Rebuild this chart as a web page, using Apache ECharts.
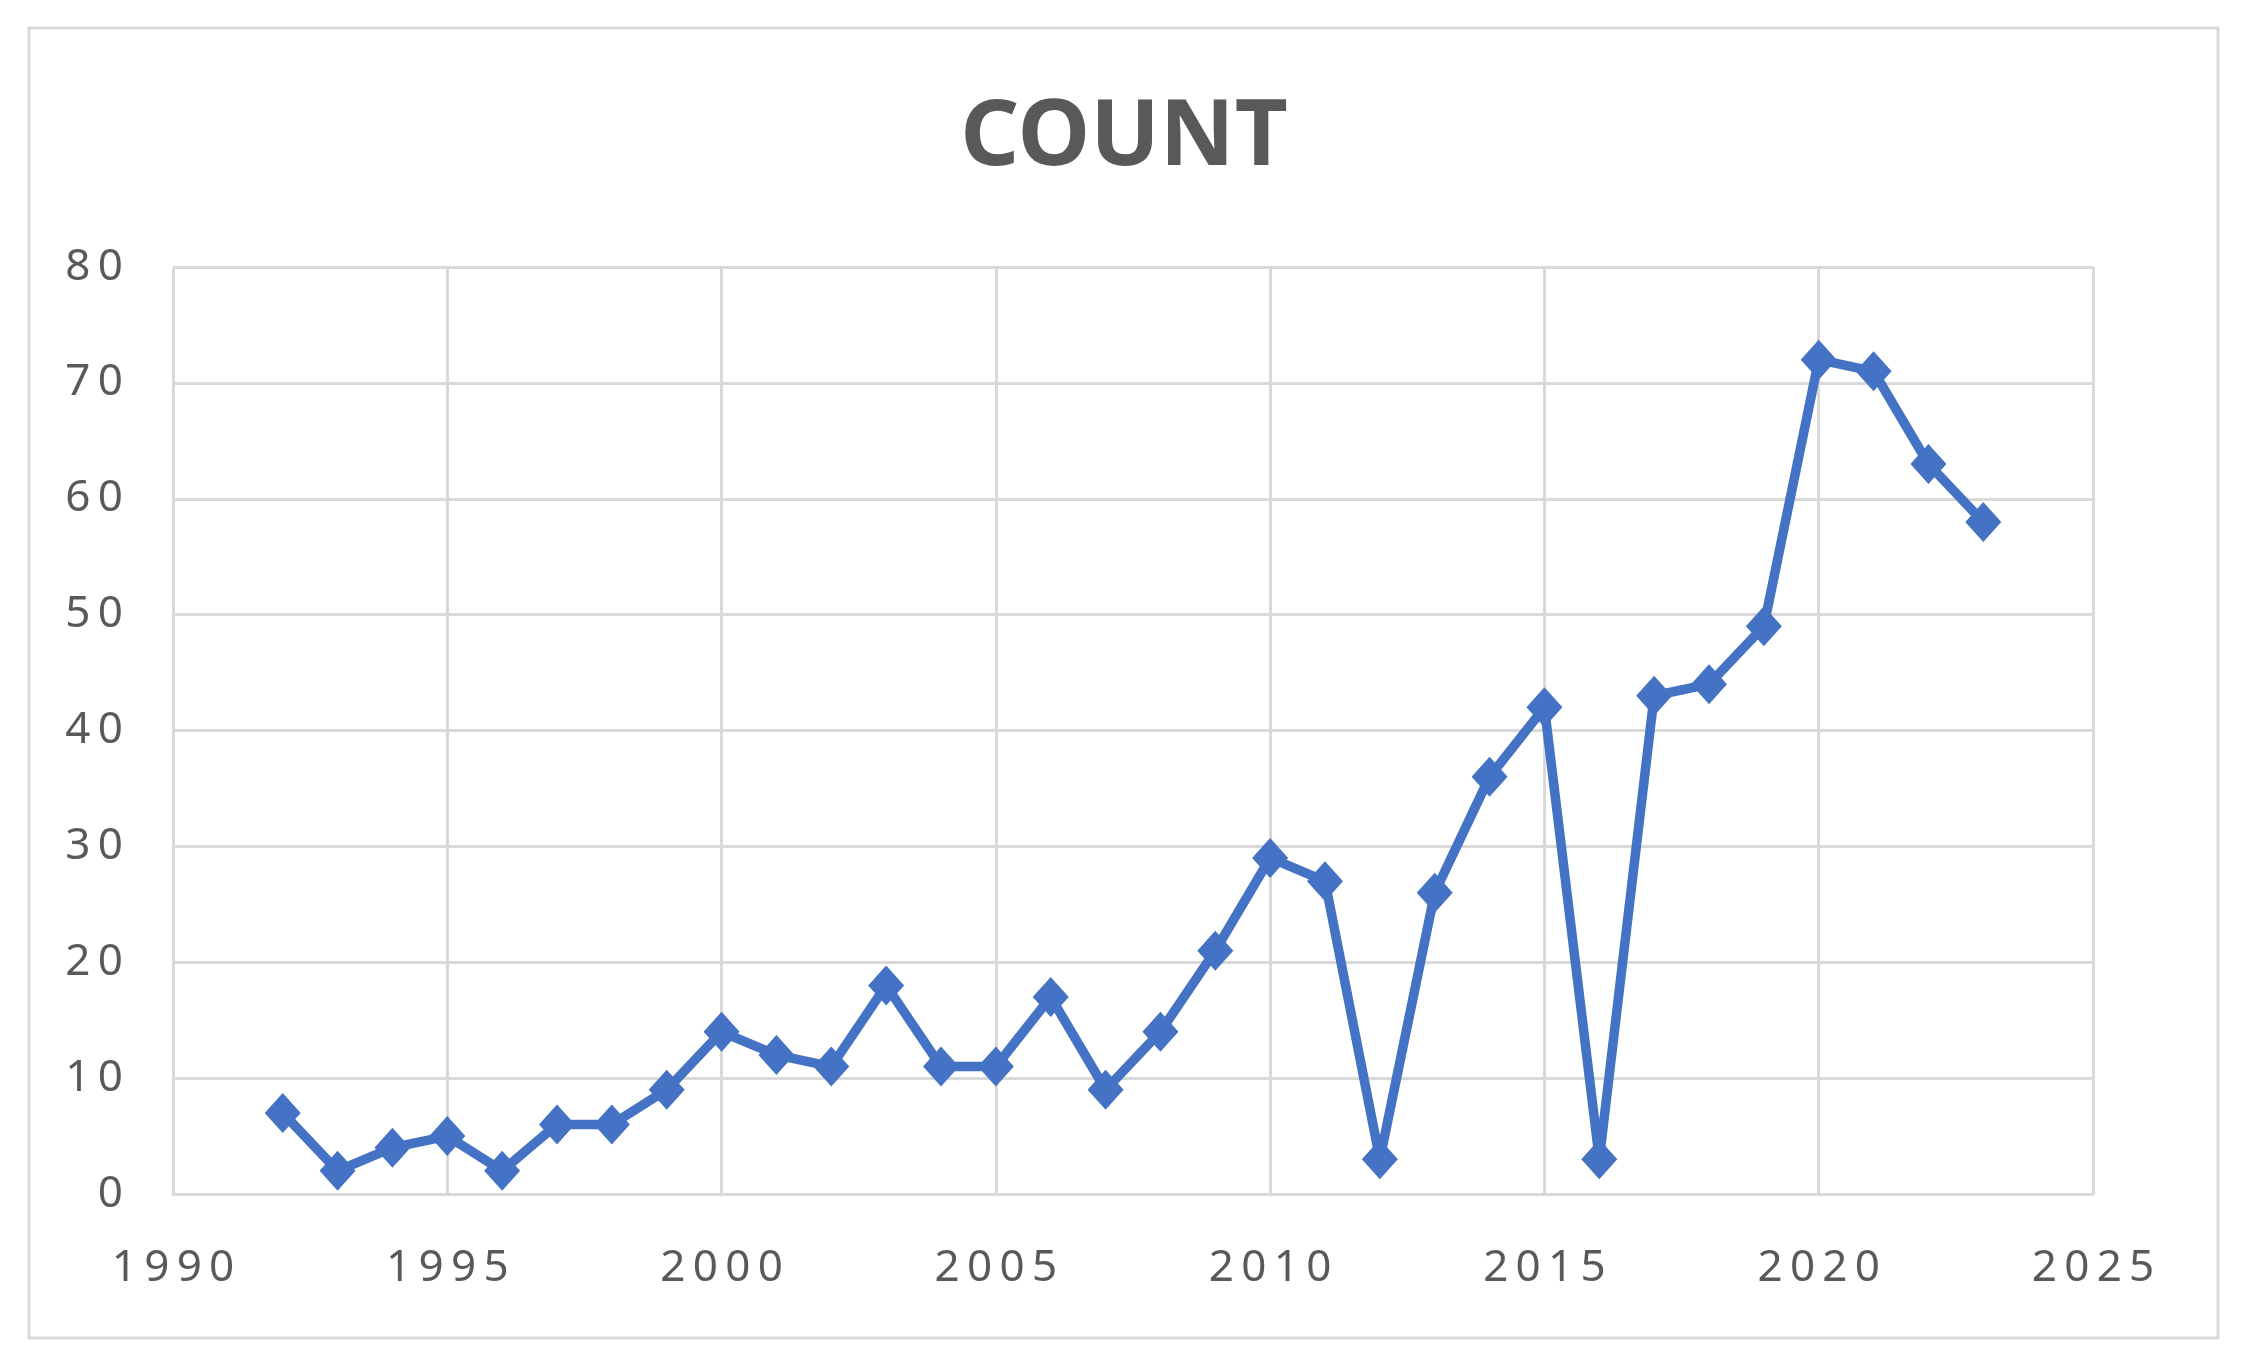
<!DOCTYPE html>
<html><head><meta charset="utf-8">
<script src="https://cdn.jsdelivr.net/npm/echarts@6/dist/echarts.min.js"></script>
<style>html,body{margin:0;padding:0;background:#fff;}#c{width:2248px;height:1371px;}</style>
</head><body><div id="c"></div>
<script>
const years = [1992,1993,1994,1995,1996,1997,1998,1999,2000,2001,2002,2003,2004,2005,2006,2007,2008,2009,2010,2011,2012,2013,2014,2015,2016,2017,2018,2019,2020,2021,2022,2023];
const counts = [7,2,4,5,2,6,6,9,14,12,11,18,11,11,17,9,14,21,29,27,3,26,36,42,3,43,44,49,72,71,63,58];
const xTicks = [1990,1995,2000,2005,2010,2015,2020,2025];
const yTicks = [0,10,20,30,40,50,60,70,80];

const spaced = (s, sp) => String(s).split('').join(sp);
const chart = echarts.init(document.getElementById('c'));
const fontFam = '"Noto Sans", "Open Sans", sans-serif';
chart.setOption({
  animation:false,
  backgroundColor:'#fff',
  graphic:[{type:'rect',shape:{x:29,y:28,width:2189,height:1310},style:{fill:'none',stroke:'#d9d9d9',lineWidth:3},z:-1}],
  title:{text:'COUNT',left:'center',top:88,textStyle:{fontFamily:fontFam,fontWeight:'bold',fontSize:92,color:'#595959'}},
  grid:{left:173,right:155,top:267,bottom:177,containLabel:false},
  xAxis:{type:'value',min:xTicks[0],max:xTicks[xTicks.length-1],interval:5,
    axisLine:{show:true,lineStyle:{color:'#d9d9d9',width:3}},axisTick:{show:false},
    splitLine:{show:true,lineStyle:{color:'#d9d9d9',width:3}},
    axisLabel:{margin:52,fontFamily:fontFam,fontSize:44,color:'#595959',formatter:v=>spaced(v,'\u2009')}},
  yAxis:{type:'value',min:yTicks[0],max:yTicks[yTicks.length-1],interval:10,
    axisLine:{show:false},axisTick:{show:false},
    splitLine:{show:true,lineStyle:{color:'#d9d9d9',width:3}},
    axisLabel:{margin:50,fontFamily:fontFam,fontSize:44,color:'#595959',formatter:v=>spaced(v,'\u2009')}},
  series:[{type:'line',data:years.map((y,i)=>[y,counts[i]]),
    symbol:'diamond',symbolSize:[36,40],
    lineStyle:{color:'#4472C4',width:9.5},itemStyle:{color:'#4472C4'}}]
});
</script></body></html>
